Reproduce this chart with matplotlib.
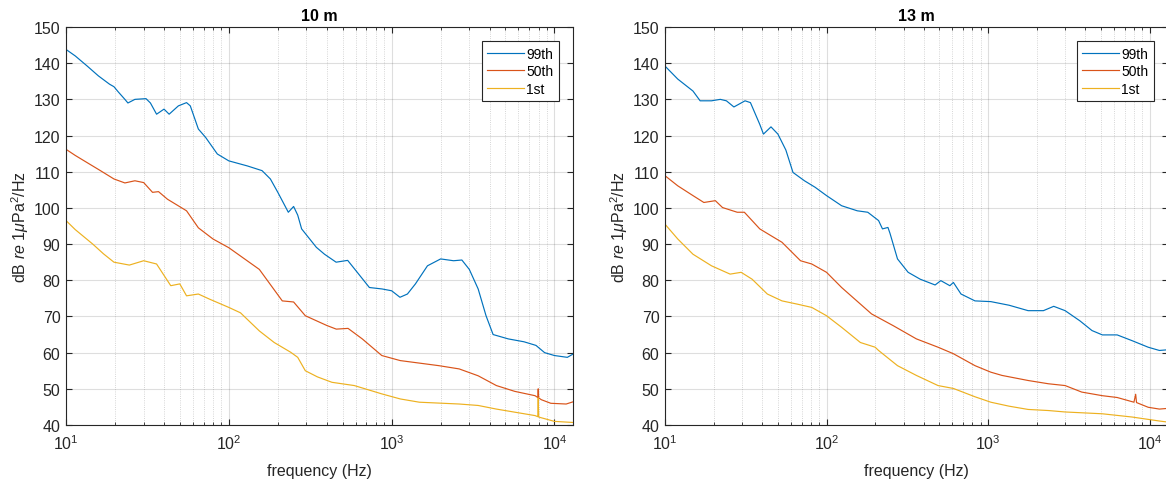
import numpy as np
import matplotlib
matplotlib.use("Agg")
import matplotlib.pyplot as plt
from matplotlib.ticker import LogLocator, NullFormatter, MultipleLocator

plt.rcParams['font.family'] = ['Liberation Sans', 'DejaVu Sans']
plt.rcParams['mathtext.fontset'] = 'custom'
plt.rcParams['mathtext.rm'] = 'Liberation Sans'
plt.rcParams['mathtext.it'] = 'Liberation Sans:italic'
plt.rcParams['mathtext.bf'] = 'Liberation Sans:bold'

# ---------------- data ----------------
titles = ["10 m", "13 m"]
labels = ["99th", "50th", "1st"]

L99_f = [10, 11.4, 13.5, 15.8, 18.5, 19.7, 21, 23, 24, 26.5, 31, 33, 36, 40, 43, 49, 55, 58, 65, 72, 85,
         100, 130, 160, 180, 200, 232, 250, 265, 280, 345, 387, 456, 537, 620, 730, 873, 1000, 1125, 1250,
         1400, 1660, 2000, 2400, 2700, 3000, 3400, 3800, 4200, 5200, 6500, 7700, 8700, 10000, 12000, 13000]
L99_v = [143.8, 142, 139.2, 136.5, 134.2, 133.5, 132, 130, 129, 130, 130.2, 129, 125.9, 127.3, 125.9, 128.2,
         129.1, 128.2, 121.8, 119.5, 114.9, 113, 111.6, 110.3, 108, 104.3, 98.8, 100.4, 98, 94.2, 89.1, 87.2,
         85, 85.5, 82, 78, 77.6, 77.1, 75.3, 76.2, 79, 84, 85.9, 85.4, 85.6, 83, 77.6, 70.2, 65, 63.8, 63,
         62, 60, 59.2, 58.7, 59.6]

L50_f = [10, 11.4, 13.5, 16, 19.7, 23, 26.5, 30, 34, 37, 42, 55, 65, 80, 100, 154, 213, 250, 295, 400,
         457, 540, 660, 870, 1130, 1950, 2600, 3400, 4400, 5700, 7600, 7900, 7950, 8000, 8300, 9500, 11800, 13000]
L50_v = [116.2, 114.5, 112.5, 110.5, 108, 106.9, 107.5, 107, 104.3, 104.5, 102.4, 99.2, 94.5, 91.4, 89,
         83, 74.3, 74, 70.2, 67.5, 66.5, 66.7, 63.8, 59.2, 57.8, 56.4, 55.5, 53.6, 50.9, 49.3, 48.1, 47.6,
         50, 47.5, 47, 46, 45.8, 46.4]

L1_f = [10, 11.4, 14.6, 17, 19.7, 24.5, 30, 36, 44, 50, 55, 65, 76, 100, 118, 154, 190, 240, 265, 295,
        350, 430, 590, 870, 1130, 1480, 2600, 3400, 4400, 7600, 7900, 7950, 8000, 10000, 13000]
L1_v = [96.5, 94, 90, 87.3, 85, 84.2, 85.4, 84.5, 78.5, 79, 75.7, 76.2, 74.8, 72.5, 71, 66, 62.8, 60.1,
        58.7, 55, 53.3, 51.8, 50.9, 48.6, 47.2, 46.3, 45.8, 45.4, 44.4, 42.6, 42.3, 47.5, 42.2, 41, 40.7]

R99_f = [10, 12, 14.9, 16.5, 19.4, 22, 24, 26.7, 31.3, 33.8, 38.6, 40.7, 45.3, 50, 56, 62, 73, 85, 100,
         124, 155, 180, 210, 222, 240, 247, 275, 320, 380, 470, 510, 580, 610, 680, 830, 1040, 1350, 1770,
         2200, 2550, 3000, 3700, 4400, 5100, 6300, 7800, 9800, 11500, 13000]
R99_v = [139.2, 135.6, 132.3, 129.6, 129.6, 130, 129.6, 127.9, 129.6, 129.1, 123.1, 120.4, 122.4, 120.4,
         116, 109.8, 107.5, 105.7, 103.4, 100.6, 99.2, 98.8, 96.5, 94.2, 94.6, 93, 85.9, 82.2, 80.3, 78.7,
         79.9, 78.5, 79.4, 76.2, 74.3, 74.1, 73.1, 71.6, 71.6, 72.8, 71.6, 68.8, 66.1, 64.9, 64.9, 63.3,
         61.5, 60.6, 60.8]

R50_f = [10, 12, 14.9, 17.4, 20.5, 22.7, 28, 31, 34.6, 38.6, 45, 53, 69, 81, 100, 124, 190, 260, 360, 490,
         610, 830, 1040, 1220, 1770, 2360, 3000, 3800, 5100, 6300, 8000, 8200, 8300, 9800, 11500, 13000]
R50_v = [108.9, 106.1, 103.4, 101.5, 102, 100.1, 98.8, 98.8, 96.5, 94.2, 92.4, 90.5, 85.4, 84.5, 82.2, 78,
         70.7, 67.4, 63.8, 61.5, 59.7, 56.4, 54.6, 53.7, 52.3, 51.4, 50.9, 49.1, 48.1, 47.6, 46.3, 48.5,
         46.2, 44.9, 44.4, 44.6]

R1_f = [10, 12, 14.9, 19.4, 25.3, 29.6, 34.6, 43, 53, 66, 81, 100, 124, 162, 200, 210, 275, 360, 490, 610,
        830, 1040, 1350, 1770, 2360, 3000, 5100, 7800, 11500, 13000]
R1_v = [95.5, 91.4, 87.2, 84, 81.7, 82.2, 80.3, 76.2, 74.3, 73.4, 72.5, 70.2, 67, 62.8, 61.5, 60.6, 56.4,
        53.7, 50.9, 50.1, 47.8, 46.3, 45.2, 44.3, 44, 43.6, 43.1, 42.2, 41.1, 40.8]

colors = ['#0072BD', '#D95319', '#EDB120']

panels = [
    [(L99_f, L99_v), (L50_f, L50_v), (L1_f, L1_v)],
    [(R99_f, R99_v), (R50_f, R50_v), (R1_f, R1_v)],
]

# ---------------- figure ----------------
W, H = 1166, 485
fig = plt.figure(figsize=(W / 100, H / 100), dpi=100)
axes_px = [(66, 28, 573, 426), (665, 28, 1168, 426)]

for i, (x0, y0, x1, y1) in enumerate(axes_px):
    aw, ah = x1 - x0, y1 - y0
    ax = fig.add_axes([x0 / W, 1 - y1 / H, aw / W, ah / H])
    for (f, v), c, lab in zip(panels[i], colors, labels):
        ax.semilogx(f, v, color=c, lw=0.85, label=lab)
    ax.set_xlim(10, 13000)
    ax.set_ylim(40, 150)
    ax.yaxis.set_major_locator(MultipleLocator(10))
    ax.xaxis.set_major_locator(LogLocator(base=10, numticks=10))
    ax.xaxis.set_minor_locator(LogLocator(base=10, subs=np.arange(2, 10), numticks=20))
    ax.xaxis.set_minor_formatter(NullFormatter())
    ax.grid(True, which='major', color='0.15', alpha=0.15, lw=0.8, ls='-')
    ax.grid(True, which='minor', axis='x', color='0.15', alpha=0.25, lw=0.6, ls=':')
    ax.tick_params(which='both', direction='in', top=True, right=True, colors='0.15',
                   labelcolor='0.15', labelsize=11.5)
    ax.tick_params(axis='x', which='major', pad=6)
    ax.tick_params(axis='y', which='major', pad=4)
    ax.tick_params(which='major', length=4)
    ax.tick_params(which='minor', length=2.5)
    for s in ax.spines.values():
        s.set_color('0.15')
        s.set_linewidth(0.8)
    ax.set_title(titles[i], fontsize=11.5, fontweight='bold', color='black', pad=5)
    ax.set_xlabel('frequency (Hz)', fontsize=11.5, color='0.15', va='center')
    ax.xaxis.set_label_coords(0.5, -(472 - y1) / ah)
    ax.set_ylabel(r'dB $\it{re}$ 1$\mu$Pa$^2$/Hz', fontsize=11.5, color='0.15', labelpad=2)
    leg = ax.legend(loc='upper right', bbox_to_anchor=(1 - 14 / aw, 1 - 14 / ah), borderaxespad=0,
                    fontsize=10, fancybox=False, framealpha=1, edgecolor='0.15',
                    handlelength=2.6, handletextpad=0.2, borderpad=0.4, labelspacing=0.25)
    leg.get_frame().set_linewidth(0.8)

fig.savefig('out.png', dpi=100)
